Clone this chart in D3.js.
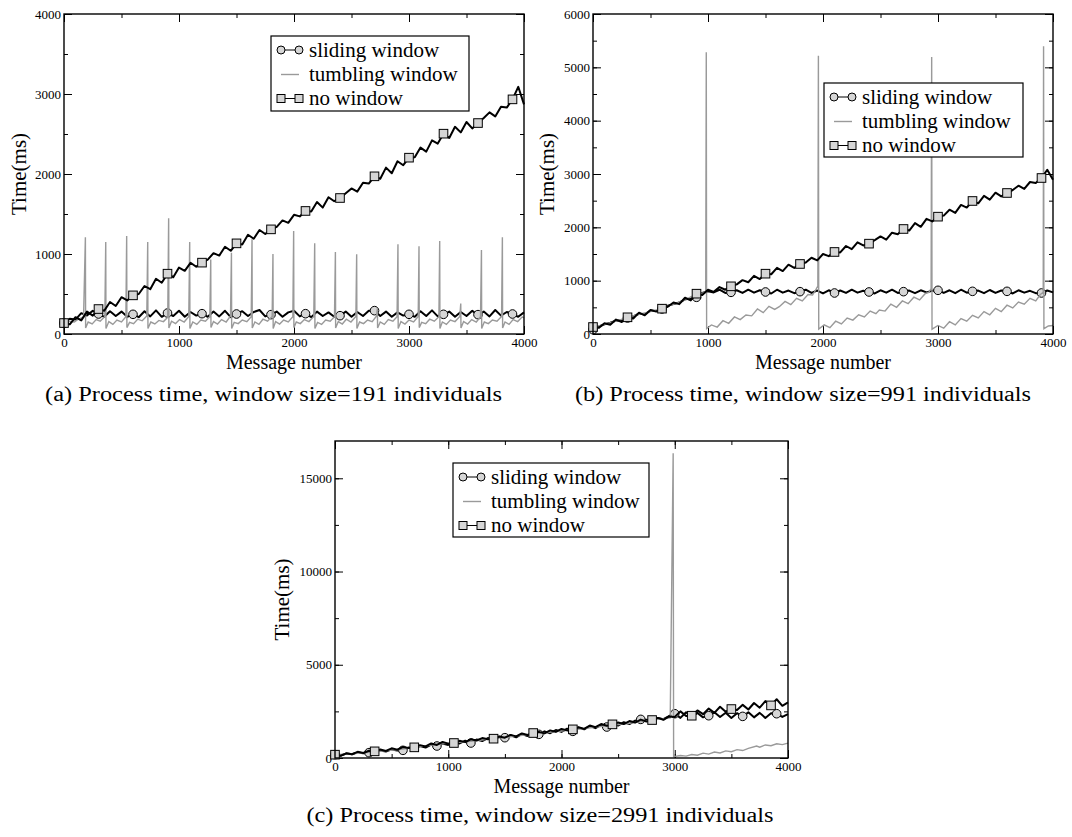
<!DOCTYPE html>
<html>
<head>
<meta charset="utf-8">
<script src="https://cdn.jsdelivr.net/npm/d3@7"></script>
<style>
  body { margin: 0; background: #fff; }
  svg text { font-family: "Liberation Serif", "Times New Roman", serif; fill: #000; }
</style>
</head>
<body>
<svg id="fig" width="1072" height="837"></svg>
<script>
// message numbers sampled every 50 messages
const MSG = d3.range(0, 4001, 50);

const LEGEND = ['sliding window', 'tumbling window', 'no window'];
const CAPTIONS = [
  '(a) Process time, window size=191 individuals',
  '(b) Process time, window size=991 individuals',
  '(c) Process time, window size=2991 individuals'
];

// ---- panel a (window 191) ----
const noWindowA = [137,120,210,170,280,230,312,290,400,350,460,420,483,500,600,560,690,640,754,710,
  830,790,890,840,892,930,1010,980,1090,1040,1133,1120,1240,1190,1300,1250,1308,1340,1420,1390,
  1490,1470,1538,1530,1650,1580,1710,1660,1700,1760,1820,1780,1890,1880,1971,1940,2080,2010,2160,2110,
  2204,2210,2330,2280,2420,2380,2504,2450,2590,2520,2650,2570,2637,2700,2770,2720,2840,2830,2933,3090,2870];
const slidingA = [135,190,180,260,230,290,250,215,285,225,280,215,246,210,285,220,295,215,262,225,
  290,215,275,230,254,215,280,220,290,210,250,285,225,275,300,220,242,280,215,270,
  290,220,254,210,280,225,270,215,229,280,215,275,225,290,292,225,280,215,270,230,
  246,215,285,225,295,220,246,280,215,275,225,290,242,280,220,300,230,275,250,215,270];
const tumblingA = [
  [0,130],[40,160],[90,150],[130,190],[170,210],[186,1209],
  [188,75],[210,150],[245,125],[280,180],[315,160],[355,220],[363,1150],
  [365,70],[390,155],[425,120],[460,175],[500,150],[538,215],[545,1225],
  [547,80],[570,145],[605,130],[640,185],[680,165],[720,225],[728,1150],
  [730,70],[755,150],[790,125],[825,170],[865,155],[902,210],[910,1446],
  [912,75],[935,160],[970,130],[1005,180],[1045,150],[1085,220],[1093,1150],
  [1095,70],[1120,150],[1155,120],[1190,175],[1230,160],[1268,215],[1276,930],
  [1278,80],[1300,155],[1335,125],[1370,180],[1410,150],[1448,225],[1456,1016],
  [1458,70],[1480,145],[1515,130],[1550,175],[1590,155],[1628,215],[1635,1183],
  [1637,75],[1660,150],[1695,120],[1730,185],[1770,160],[1810,220],[1817,1000],
  [1819,70],[1840,155],[1875,125],[1910,175],[1950,150],[1990,215],[1997,1287],
  [1999,80],[2020,150],[2055,130],[2090,180],[2130,155],[2172,220],[2180,1133],
  [2182,70],[2205,145],[2240,120],[2275,175],[2315,160],[2352,215],[2360,1025],
  [2362,75],[2385,155],[2420,125],[2455,185],[2495,150],[2538,220],[2545,996],
  [2547,70],[2570,150],[2605,130],[2640,175],[2680,155],[2718,225],[2725,320],
  [2727,75],[2750,150],[2785,120],[2820,180],[2860,160],[2896,215],[2904,1121],
  [2906,70],[2930,155],[2965,125],[3000,175],[3040,150],[3080,220],[3087,1096],
  [3089,80],[3110,145],[3145,130],[3180,185],[3220,160],[3260,215],[3267,1162],
  [3269,70],[3290,150],[3325,120],[3360,175],[3400,155],[3442,220],[3450,380],
  [3452,75],[3475,155],[3510,125],[3545,180],[3585,150],[3622,215],[3630,1050],
  [3632,70],[3655,150],[3690,130],[3725,175],[3765,160],[3805,220],[3812,1209],
  [3814,75],[3835,150],[3870,120],[3905,180],[3945,155],[3985,215],[4000,200]];

// ---- panel b (window 991) ----
const noWindowB = [131,115,200,175,270,225,313,290,400,350,450,420,475,510,590,560,680,630,756,730,
  830,790,880,830,894,930,1010,970,1090,1030,1131,1120,1240,1180,1300,1240,1313,1340,1430,1380,
  1500,1460,1538,1530,1650,1590,1720,1660,1694,1760,1830,1770,1900,1870,1969,1940,2080,2010,2160,2110,
  2200,2220,2330,2270,2420,2370,2494,2450,2590,2520,2650,2580,2644,2700,2780,2720,2850,2830,2925,3080,2890];
const slidingB = [81,140,180,210,250,260,300,330,380,370,440,430,470,530,560,590,650,660,688,770,
  800,780,830,770,781,820,770,830,775,820,788,760,830,775,815,765,794,830,770,815,
  760,820,769,815,770,830,775,810,788,760,820,775,830,770,794,815,765,820,780,810,
  819,770,820,765,830,775,800,815,765,825,770,815,800,760,820,775,810,765,769,815,780];
const tumblingB = [
  [0,130],[100,180],[200,240],[300,310],[400,370],[500,420],[600,480],[700,560],[800,640],[900,750],
  [950,760],[980,800],[985,5281],
  [988,100],[1030,170],[1080,130],[1130,250],[1180,200],[1230,320],[1280,270],[1330,356],[1380,340],
  [1430,470],[1480,400],[1530,520],[1580,460],[1620,512],[1670,610],[1720,550],[1770,670],[1820,620],
  [1870,740],[1909,731],[1935,820],[1955,900],[1960,5219],
  [1963,94],[2010,170],[2060,120],[2110,240],[2160,190],[2210,300],[2260,260],[2310,360],[2360,320],
  [2410,430],[2460,380],[2490,450],[2540,430],[2590,560],[2640,500],[2690,620],[2740,570],[2790,690],
  [2840,640],[2890,760],[2920,780],[2940,850],[2945,5194],
  [2948,90],[3000,160],[3050,110],[3100,230],[3150,170],[3200,290],[3250,240],[3300,350],[3350,300],
  [3400,420],[3450,360],[3500,480],[3550,420],[3600,540],[3650,490],[3700,600],[3750,560],[3800,670],
  [3850,620],[3890,740],[3915,780],[3918,5394],
  [3921,100],[3960,150],[4000,160]];

// ---- panel c (window 2991) ----
const noWindowC = [179,120,250,200,330,270,390,357,460,380,520,450,590,540,571,690,620,780,700,860,
  770,804,920,850,1000,940,1070,1010,1036,1150,1090,1240,1160,1320,1230,1339,1400,1320,1480,1400,
  1560,1480,1536,1650,1560,1740,1650,1820,1730,1804,1900,1820,1980,1900,2060,1960,2036,2150,2050,2230,
  2200,2500,2250,2268,2550,2350,2650,2420,2750,2480,2625,2580,2850,2600,2950,2700,3050,2821,3150,2800,2980];
const slidingC = [179,130,240,200,300,250,286,330,400,350,460,400,411,560,480,640,560,720,643,780,
  700,860,780,930,804,990,910,1070,980,1140,1089,1220,1110,1290,1180,1360,1268,1430,1330,1500,
  1400,1570,1429,1630,1540,1710,1600,1780,1661,1850,1740,1920,1820,2000,2071,2050,2000,2150,2080,2250,
  2375,2150,2450,2200,2420,2180,2268,2450,2200,2430,2150,2400,2232,2450,2180,2420,2150,2400,2375,2200,2350];
const tumblingC = [
  [0,180],[200,250],[400,360],[600,480],[800,650],[1000,800],[1200,900],[1400,1040],[1600,1180],
  [1800,1320],[2000,1450],[2200,1580],[2400,1730],[2600,1860],[2800,2030],[2960,2150],[2986,16340],
  [2990,70],[3050,130],[3100,100],[3150,190],[3200,150],[3250,260],[3300,210],[3350,320],[3400,270],
  [3450,380],[3500,340],[3550,450],[3600,400],[3650,520],[3723,643],[3750,580],[3800,700],[3850,660],
  [3900,760],[3950,720],[4000,800]];

// ---- layout ----
const PANELS = [
  { left: 64, right: 524, top: 14, bottom: 334, ymax: 4000, yMajor: 1000, yMinor: 500,
    sliding: slidingA, tumbling: tumblingA, noWindow: noWindowA, squareEvery: 300,
    legend: { x: 271, y: 36, w: 198, h: 75 }, titleX: 19, caption: { x: 273.5, y: 401, w: 457 } },
  { left: 593, right: 1053, top: 14, bottom: 334, ymax: 6000, yMajor: 1000, yMinor: 500,
    sliding: slidingB, tumbling: tumblingB, noWindow: noWindowB, squareEvery: 300,
    legend: { x: 824, y: 83, w: 199, h: 74 }, titleX: 547, caption: { x: 803, y: 401, w: 456 } },
  { left: 335, right: 788, top: 441, bottom: 758, ymax: 17000, yMajor: 5000, yMinor: 2500,
    sliding: slidingC, tumbling: tumblingC, noWindow: noWindowC, squareEvery: 350,
    legend: { x: 453, y: 463, w: 196, h: 74 }, titleX: 282, caption: { x: 540, y: 822, w: 467 } }
];

const GRAY = '#9a9a9a';
const MARK_FILL = '#d6d6d6';
const svg = d3.select('#fig');

function drawPanel(p, i) {
  const g = svg.append('g');
  const x = d3.scaleLinear().domain([0, 4000]).range([p.left, p.right]);
  const y = d3.scaleLinear().domain([0, p.ymax]).range([p.bottom, p.top]);

  const ax = (sel) => sel.call(s => s.select('.domain').remove())
    .call(s => s.selectAll('line').attr('stroke', '#000').attr('stroke-width', 1));

  // minor ticks, all four sides, pointing inwards
  const xMinor = d3.range(0, 4001, 500), yMinor = d3.range(0, p.ymax + 1, p.yMinor);
  g.append('g').attr('transform', `translate(0,${p.bottom})`)
    .call(d3.axisBottom(x).tickValues(xMinor).tickSize(-4).tickFormat('')).call(ax);
  g.append('g').attr('transform', `translate(0,${p.top})`)
    .call(d3.axisTop(x).tickValues(xMinor).tickSize(-4).tickFormat('')).call(ax);
  g.append('g').attr('transform', `translate(${p.left},0)`)
    .call(d3.axisLeft(y).tickValues(yMinor).tickSize(-4).tickFormat('')).call(ax);
  g.append('g').attr('transform', `translate(${p.right},0)`)
    .call(d3.axisRight(y).tickValues(yMinor).tickSize(-4).tickFormat('')).call(ax);

  // major ticks, labels on bottom and left
  const xMajor = d3.range(0, 4001, 1000), yMajor = d3.range(0, p.ymax + 1, p.yMajor);
  g.append('g').attr('transform', `translate(0,${p.bottom})`)
    .call(d3.axisBottom(x).tickValues(xMajor).tickSize(-8).tickPadding(4).tickFormat(d3.format('d'))).call(ax);
  g.append('g').attr('transform', `translate(0,${p.top})`)
    .call(d3.axisTop(x).tickValues(xMajor).tickSize(-8).tickFormat('')).call(ax);
  g.append('g').attr('transform', `translate(${p.left},0)`)
    .call(d3.axisLeft(y).tickValues(yMajor).tickSize(-8).tickPadding(3).tickFormat(d3.format('d'))).call(ax);
  g.append('g').attr('transform', `translate(${p.right},0)`)
    .call(d3.axisRight(y).tickValues(yMajor).tickSize(-8).tickFormat('')).call(ax);
  g.selectAll('.tick text').attr('font-size', 13).attr('font-family', '"Liberation Serif", serif');

  // series: sliding, tumbling, no window (later ones on top)
  const line = d3.line().x(d => x(d[0])).y(d => y(d[1]));
  const slid = MSG.map((m, k) => [m, p.sliding[k]]);
  const none = MSG.map((m, k) => [m, p.noWindow[k]]);

  g.append('path').datum(slid).attr('d', line)
    .attr('fill', 'none').attr('stroke', '#000').attr('stroke-width', 2).attr('stroke-linejoin', 'round');
  g.selectAll('.circ').data(slid.filter(d => d[0] % 300 === 0)).enter().append('circle')
    .attr('cx', d => x(d[0])).attr('cy', d => y(d[1])).attr('r', 4.3)
    .attr('fill', MARK_FILL).attr('stroke', '#000').attr('stroke-width', 1);

  g.append('path').datum(p.tumbling).attr('d', line)
    .attr('fill', 'none').attr('stroke', GRAY).attr('stroke-width', 1.4);

  g.append('path').datum(none).attr('d', line)
    .attr('fill', 'none').attr('stroke', '#000').attr('stroke-width', 2).attr('stroke-linejoin', 'round');
  g.selectAll('.sq').data(none.filter(d => d[0] % p.squareEvery === 0)).enter().append('rect')
    .attr('x', d => x(d[0]) - 4.3).attr('y', d => y(d[1]) - 4.3).attr('width', 8.6).attr('height', 8.6)
    .attr('fill', MARK_FILL).attr('stroke', '#000').attr('stroke-width', 1);

  // frame
  g.append('rect').attr('x', p.left).attr('y', p.top)
    .attr('width', p.right - p.left).attr('height', p.bottom - p.top)
    .attr('fill', 'none').attr('stroke', '#000').attr('stroke-width', 1.4);

  // axis titles
  g.append('text').attr('x', (p.left + p.right) / 2).attr('y', p.bottom + 35)
    .attr('text-anchor', 'middle').attr('font-size', 20).text('Message number');
  g.append('text').attr('transform', `translate(${p.titleX},${(p.top + p.bottom) / 2}) rotate(-90)`)
    .attr('text-anchor', 'middle').attr('dy', '0.35em').attr('font-size', 21).text('Time(ms)');

  // legend
  const L = p.legend;
  const lg = g.append('g').attr('transform', `translate(${L.x},${L.y})`);
  lg.append('rect').attr('width', L.w).attr('height', L.h)
    .attr('fill', '#fff').attr('stroke', '#000').attr('stroke-width', 1.2);
  const rowY = [14, 38.5, 62.5];
  LEGEND.forEach((name, k) => {
    const ry = rowY[k];
    if (k === 1) {
      lg.append('line').attr('x1', 10).attr('x2', 28).attr('y1', ry).attr('y2', ry)
        .attr('stroke', GRAY).attr('stroke-width', 1.4);
    } else {
      lg.append('line').attr('x1', 10).attr('x2', 28).attr('y1', ry).attr('y2', ry)
        .attr('stroke', '#000').attr('stroke-width', 1);
      [10, 28].forEach(cx => {
        if (k === 0) {
          lg.append('circle').attr('cx', cx).attr('cy', ry).attr('r', 4)
            .attr('fill', MARK_FILL).attr('stroke', '#000');
        } else {
          lg.append('rect').attr('x', cx - 4).attr('y', ry - 4).attr('width', 8).attr('height', 8)
            .attr('fill', MARK_FILL).attr('stroke', '#000');
        }
      });
    }
    lg.append('text').attr('x', 38).attr('y', ry).attr('dy', '0.33em')
      .attr('font-size', 21).text(name);
  });

  // caption
  svg.append('text').attr('x', p.caption.x).attr('y', p.caption.y)
    .attr('text-anchor', 'middle').attr('font-size', 20)
    .attr('textLength', p.caption.w).attr('lengthAdjust', 'spacingAndGlyphs')
    .text(CAPTIONS[i]);
}

PANELS.forEach(drawPanel);
</script>
</body>
</html>
